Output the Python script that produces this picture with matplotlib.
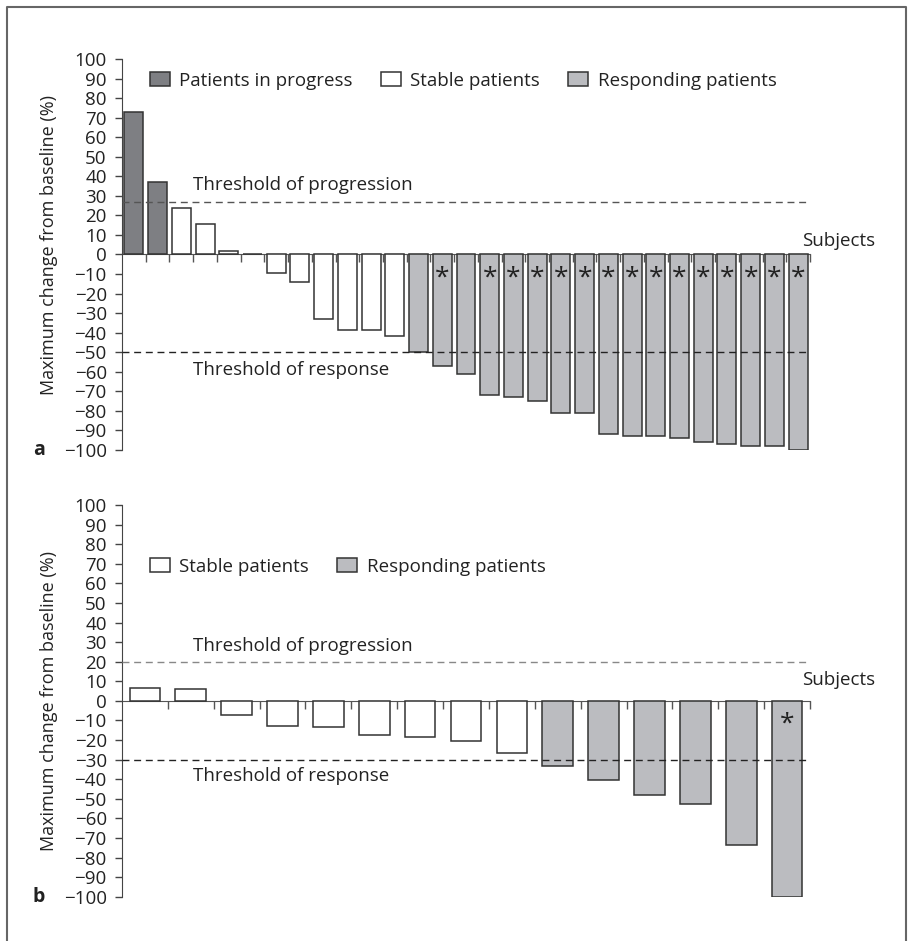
import numpy as np
import matplotlib
matplotlib.use("Agg")
import matplotlib.pyplot as plt
from matplotlib.patches import Patch
from matplotlib.lines import Line2D

plt.rcParams['font.family'] = ['Open Sans', 'DejaVu Sans']
plt.rcParams['font.size'] = 13.5

# ------------------------------
# Data
# ------------------------------
# panel a: maximum change from baseline per subject (%)
a_values = [73, 37, 24, 15.5, 1.8, 0, -9.5, -14, -33, -38.5, -38.5, -41.5,
            -50, -57, -61, -72, -73, -75, -81, -81, -92, -93, -93, -94,
            -96, -97, -98, -98, -100]
a_groups = ["progress"] * 2 + ["stable"] * 10 + ["responding"] * 17
a_star = [False] * 12 + [False, True, False] + [True] * 14
a_thresholds = (27, -50)

# panel b
b_values = [6.5, 6, -7, -13, -13.5, -17.5, -18.5, -20.5, -26.5,
            -33.5, -40.5, -48, -52.5, -73.5, -100]
b_groups = ["stable"] * 9 + ["responding"] * 6
b_star = [False] * 14 + [True]
b_thresholds = (20, -30)

colors = {"progress": "#7e7f83", "stable": "#ffffff", "responding": "#bbbcc0"}
labels = {"progress": "Patients in progress", "stable": "Stable patients",
          "responding": "Responding patients"}
edge = "#333333"
txt = "#222222"


def waterfall(ax, values, groups, stars, thresholds, width, prog_color,
              legend_y, subj_y, prog_y, resp_y, ylabel_y, letter):
    n = len(values)
    x = np.arange(n)
    ax.bar(x, values, width=width, color=[colors[g] for g in groups],
           edgecolor=edge, linewidth=1.1, zorder=3)
    for xi, v, s in zip(x, values, stars):
        if s:
            ax.text(xi, -12, "*", ha="center", va="center", fontsize=19,
                    color=txt, zorder=4)

    ax.set_xlim(-0.5, n - 0.5)
    ax.set_ylim(-100, 100)
    ax.set_yticks(np.arange(-100, 101, 10))
    ax.set_xticks(np.arange(0.5, n, 1.0))
    ax.tick_params(axis="x", direction="out", length=6, width=1,
                   color="#555555", labelbottom=False)
    ax.tick_params(axis="y", direction="out", length=5, width=1,
                   color="#444444", pad=6, labelcolor=txt)
    for side in ("top", "right"):
        ax.spines[side].set_visible(False)
    ax.spines["bottom"].set_position(("data", 0))
    ax.spines["bottom"].set_color("#555555")
    ax.spines["left"].set_color("#444444")
    ax.spines["bottom"].set_zorder(2)

    # progression / response thresholds
    ax.hlines(thresholds[0], -0.5, n - 0.5, colors=prog_color,
              linestyles=(0, (5, 3.4)), linewidth=1.0, zorder=5)
    ax.hlines(thresholds[1], -0.5, n - 0.5, colors="#222222",
              linestyles=(0, (5, 3.4)), linewidth=1.0, zorder=5)
    ax.text(0.103, prog_y, "Threshold of progression", transform=ax.get_yaxis_transform(),
            ha="left", va="center", color=txt)
    ax.text(0.103, resp_y, "Threshold of response", transform=ax.get_yaxis_transform(),
            ha="left", va="center", color=txt)
    ax.text(0.988, subj_y, "Subjects", transform=ax.get_yaxis_transform(),
            ha="left", va="center", color=txt)

    ax.set_ylabel("Maximum change from baseline (%)", color=txt, fontsize=13)
    ax.yaxis.set_label_coords(-0.093, ylabel_y)
    ax.text(-0.121, -100, letter, transform=ax.get_yaxis_transform(),
            ha="center", va="center", fontweight="bold", fontsize=14, color=txt)

    # legend in the order the groups appear
    order = [g for g in ("progress", "stable", "responding") if g in groups]
    handles = [Patch(facecolor=colors[g], edgecolor=edge, linewidth=1.1,
                     label=labels[g]) for g in order]
    ax.legend(handles=handles, loc="center left", ncol=len(handles),
              bbox_to_anchor=(0.027, legend_y), frameon=False, borderpad=0,
              handlelength=1.07, handleheight=0.7, handletextpad=0.5,
              columnspacing=1.5, labelcolor=txt)


fig = plt.figure(figsize=(9.09, 9.41), dpi=100)
ax_a = fig.add_axes([0.1342, 0.5218, 0.7569, 0.4155])
ax_b = fig.add_axes([0.1342, 0.0471, 0.7569, 0.4162])

waterfall(ax_a, a_values, a_groups, a_star, a_thresholds, 0.8, "#555555",
          legend_y=0.945, subj_y=7, prog_y=35.5, resp_y=-59,
          ylabel_y=0.524, letter="a")
waterfall(ax_b, b_values, b_groups, b_star, b_thresholds, 0.67, "#888888",
          legend_y=0.843, subj_y=10.5, prog_y=28, resp_y=-38.5,
          ylabel_y=0.5, letter="b")

# outer frame (open at the bottom)
fig.add_artist(Line2D([0.0072, 0.0072, 0.9967, 0.9967], [-0.01, 0.9926, 0.9926, -0.01],
                      transform=fig.transFigure, color="#666666", linewidth=1.5))

fig.savefig("out.png", dpi=100)
